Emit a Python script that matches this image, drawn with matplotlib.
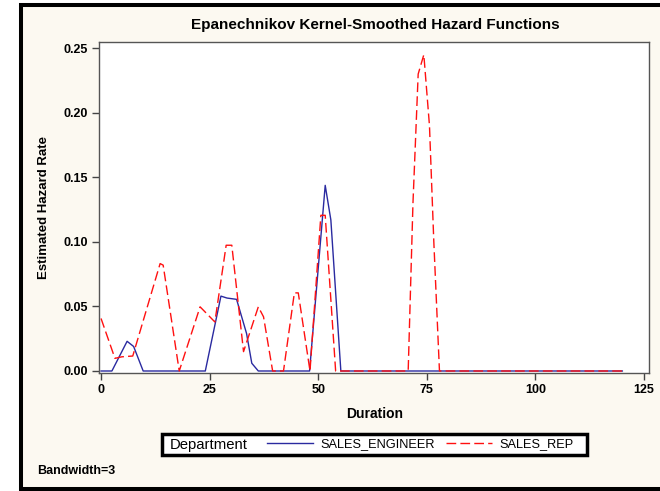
import matplotlib.pyplot as plt
from matplotlib.patches import Rectangle

# values
eng_t = [0, 2.5, 6.0, 7.5, 9.7, 24.0, 27.6, 29.0, 31.2, 33.5, 34.7, 36.2,
         48.0, 51.6, 52.9, 55.2, 120]
eng_h = [0, 0, 0.023, 0.019, 0, 0, 0.058, 0.0565, 0.0555, 0.029, 0.006, 0,
         0, 0.1438, 0.117, 0, 0]

rep_t = [0, 3.2, 4.8, 7.3, 13.6, 14.3, 18.0, 22.8, 26.2, 28.8, 30.1, 32.8,
         36.2, 37.4, 39.5, 42.0, 44.5, 45.4, 48.1, 50.6, 51.6, 54.0, 70.7,
         71.8, 73.0, 74.3, 75.6, 76.6, 77.9, 120]
rep_h = [0.0407, 0.0098, 0.011, 0.0116, 0.0832, 0.082, 0, 0.0497, 0.038,
         0.0974, 0.0974, 0.015, 0.0497, 0.042, 0, 0, 0.0605, 0.0605, 0,
         0.1206, 0.1206, 0, 0, 0.13, 0.230, 0.245, 0.19, 0.10, 0, 0]

x_ticks = [0, 25, 50, 75, 100, 125]
y_ticks = [0.00, 0.05, 0.10, 0.15, 0.20, 0.25]
labels = ["SALES_ENGINEER", "SALES_REP"]

W, H = 660, 491
plt.rcParams['font.family'] = ['Liberation Sans', 'DejaVu Sans']
fig = plt.figure(figsize=(W / 100, H / 100), dpi=100, facecolor='white')

# outer beige panel with thick black border
fig.add_artist(Rectangle((21 / W, 1 - 489 / H), 1.2, (489 - 5) / H,
                         transform=fig.transFigure, facecolor='#fcf9f1',
                         edgecolor='black', linewidth=2.9, zorder=0))

ax = fig.add_axes([99.3 / W, 1 - 373 / H, 550 / W, (373 - 42.3) / H])
ax.set_facecolor('white')

l1, = ax.plot(eng_t, eng_h, color='#2a2aa0', lw=1.0, label=labels[0])
l2, = ax.plot(rep_t, rep_h, color='#ff1010', lw=1.0, dashes=(7, 3),
              label=labels[1])

ax.set_xlim(-0.4, 126.2)
ax.set_ylim(-0.00155, 0.2546)
ax.set_xticks(x_ticks)
ax.set_yticks(y_ticks)
ax.set_yticklabels([f"{v:.2f}" for v in y_ticks])
ax.tick_params(direction='out', length=5, width=1, color='#444444',
               labelsize=9, pad=3)
for lab in ax.get_xticklabels() + ax.get_yticklabels():
    lab.set_fontweight('bold')
for sp in ax.spines.values():
    sp.set_color('#555555')
    sp.set_linewidth(1)

ax.set_xlabel('Duration', fontsize=10, fontweight='bold', labelpad=8)
ax.set_ylabel('Estimated Hazard Rate', fontsize=9.5, fontweight='bold',
              labelpad=10)
fig.text(375 / W, 1 - 25 / H, 'Epanechnikov Kernel-Smoothed Hazard Functions',
         ha='center', va='center', fontsize=11, fontweight='bold')

# legend box
fig.add_artist(Rectangle((161.75 / W, 1 - 455.25 / H), (587.25 - 161.75) / W,
                         (455.25 - 433.75) / H, transform=fig.transFigure,
                         facecolor='white', edgecolor='black', linewidth=2.5,
                         zorder=3))
fig.text(170 / W, 1 - 444.5 / H, 'Department', ha='left', va='center',
         fontsize=10.7, zorder=4)
leg = fig.legend(handles=[l1, l2], labels=labels, ncol=2, frameon=False,
                 loc='center left', bbox_to_anchor=(267 / W, 1 - 444.5 / H),
                 fontsize=9.2, handlelength=3.6, handletextpad=0.55,
                 columnspacing=0.9, borderpad=0, borderaxespad=0)
leg.set_zorder(5)

fig.text(37 / W, 1 - 470.5 / H, 'Bandwidth=3', ha='left', va='center',
         fontsize=9, fontweight='bold')

fig.savefig('out.png', dpi=100)
